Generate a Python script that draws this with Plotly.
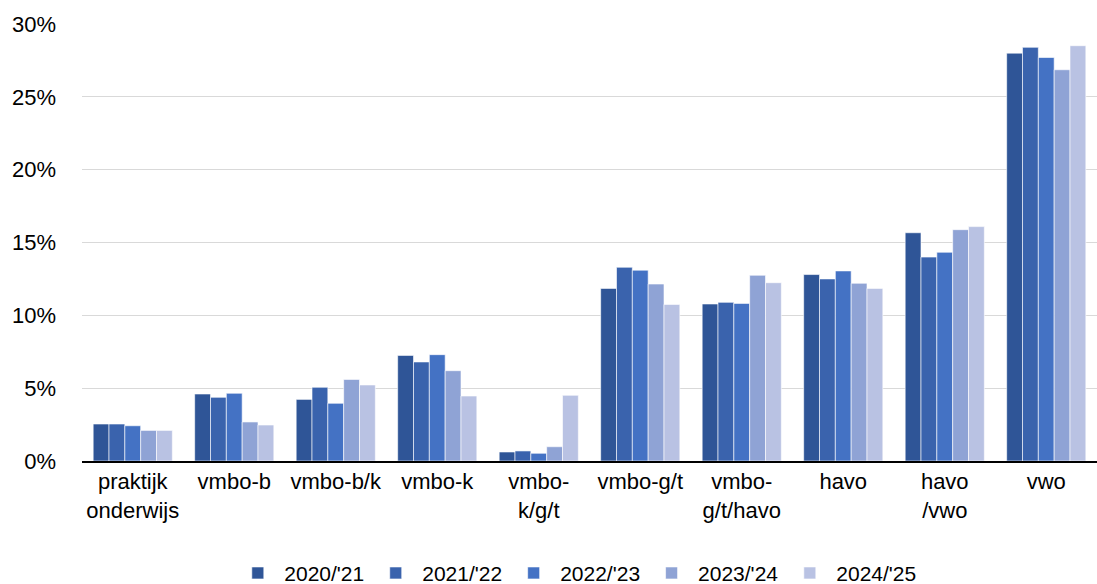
import plotly.graph_objects as go

categories = ["praktijk<br>onderwijs", "vmbo-b", "vmbo-b/k", "vmbo-k", "vmbo-<br>k/g/t",
              "vmbo-g/t", "vmbo-<br>g/t/havo", "havo", "havo<br>/vwo", "vwo"]
series_names = ["2020/'21", "2021/'22", "2022/'23", "2023/'24", "2024/'25"]
v2020 = [2.54, 4.60, 4.23, 7.25, 0.62, 11.85, 10.78, 12.80, 15.67, 28.00]
v2021 = [2.54, 4.37, 5.06, 6.80, 0.69, 13.30, 10.89, 12.50, 14.00, 28.40]
v2022 = [2.42, 4.65, 3.96, 7.30, 0.53, 13.10, 10.82, 13.05, 14.33, 27.70]
v2023 = [2.10, 2.68, 5.60, 6.20, 0.98, 12.15, 12.75, 12.20, 15.88, 26.86]
v2024 = [2.10, 2.47, 5.22, 4.46, 4.51, 10.75, 12.24, 11.85, 16.09, 28.51]
colors = ["#2F5597", "#3A63AD", "#4472C4", "#8FA3D5", "#B9C2E3"]
yticks = [0, 5, 10, 15, 20, 25, 30]

fig = go.Figure()
for name, vals, col in zip(series_names, [v2020, v2021, v2022, v2023, v2024], colors):
    fig.add_trace(go.Bar(x=categories, y=vals, name=name,
                         marker=dict(color=col, line=dict(color="rgba(255,255,255,0.6)", width=1))))

fig.update_layout(
    width=1097, height=584,
    paper_bgcolor="white", plot_bgcolor="white",
    margin=dict(l=82, r=0, t=24, b=123, autoexpand=False),
    barmode="group", bargap=0.22, bargroupgap=0,
    font=dict(family="Liberation Sans, Arial, sans-serif", size=22, color="#000"),
    legend=dict(orientation="h", x=0.487, xanchor="center", y=-0.257, yanchor="middle",
                font=dict(size=21), itemwidth=43, tracegroupgap=0),
    showlegend=True,
)
fig.update_yaxes(range=[0, 30], tickvals=yticks, ticktext=[f"{t}%" for t in yticks],
                 showgrid=True, gridcolor="#D9D9D9", gridwidth=1, zeroline=False,
                 showline=False, ticklabelstandoff=25, tickfont=dict(size=22),
                 automargin=False)
fig.update_xaxes(showline=True, linecolor="#000", linewidth=2, tickfont=dict(size=22),
                 ticks="", showgrid=False, automargin=False)

fig.write_html("out.html", config={"displayModeBar": False},
               post_script="document.body.style.margin='0';")
